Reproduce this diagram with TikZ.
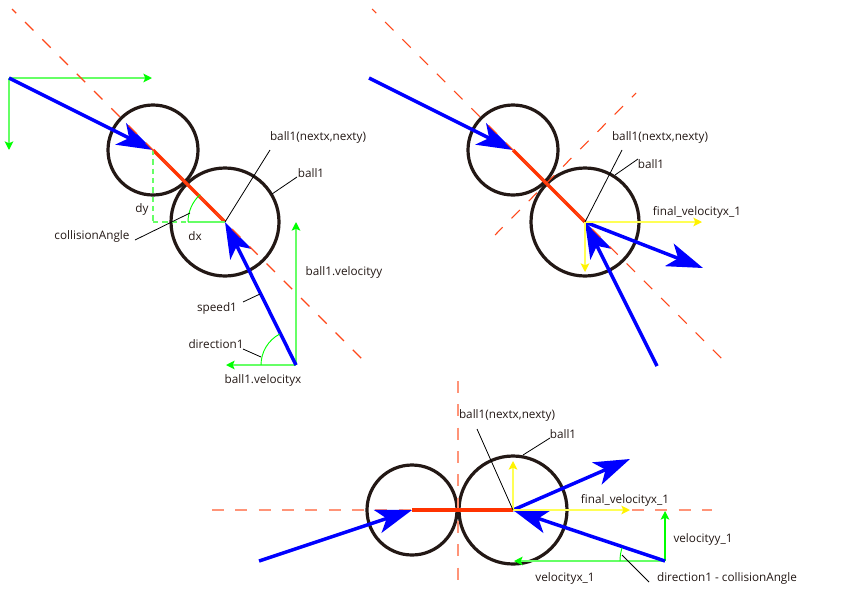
\documentclass[tikz,border=0pt]{standalone}
\usepackage{fontspec}
\setmainfont{Open Sans}
\usetikzlibrary{arrows.meta}
\usetikzlibrary{positioning}
\definecolor{ballrim}{HTML}{231815}
\definecolor{lineorange}{HTML}{FF3300}
\definecolor{dashsalmon}{HTML}{FF9478}
\definecolor{axisgreen}{HTML}{66FF66}
\definecolor{axisyellow}{HTML}{FFFF55}
\tikzset{
        ball/.style={draw=ballrim,circle,line width=2.4pt,inner sep=0pt,fill=none},
        pt/.style={inner sep=0pt,outer sep=0pt,minimum size=0pt},
        lab/.style={inner sep=0pt,font=\fontsize{8.8}{10}\selectfont,text=ballrim},
        speedline/.style={draw=blue,line width=2.6pt,-{Stealth[length=27pt,width=18pt,inset=7pt]}},
        linkline/.style={draw=lineorange,line width=2.4pt},
        centerline/.style={draw=lineorange!90,line width=0.8pt,dash pattern=on 8.9pt off 9.4pt,dash phase=4.5pt},
        salmonline/.style={draw=dashsalmon,line width=1.4pt,dash pattern=on 9pt off 8.5pt},
        axis/.style={draw=axisgreen,line width=1.2pt,-{Stealth[length=6.5pt,width=6.5pt,inset=1.5pt,color=green]}},
        yaxis/.style={draw=axisyellow,line width=1.2pt,-{Stealth[length=6.5pt,width=6.5pt,inset=1.5pt,color=yellow]}},
        dashaxis/.style={draw=axisgreen,line width=1.2pt,dash pattern=on 4pt off 3pt},
        leader/.style={draw=black,line width=0.6pt},
        anglearc/.style={draw=green,line width=0.7pt}
}
\begin{document}
\begin{tikzpicture}[x=0.75pt,y=-0.75pt]
\useasboundingbox (0,0) rectangle (859,607);
% first picture
\node[pt] (orig) at (9,78) {};
\node[pt] (xend) at (152,78) {};
\node[pt] (yend) at (9,150) {};
\node[pt] (c1) at (153,150) {};
\node[pt] (c2) at (225,222) {};
\node[pt] (start) at (296,365) {};
\node[pt] (dashA) at (12,9) {};
\node[pt] (dashB) at (365,362) {};
\node[pt] (vyend) at (296,222) {};
\node[pt] (vxend) at (226,365) {};
\node[pt] (corner) at (153,222) {};
\node[ball,minimum size=67.5pt] (small) at (c1) {};
\node[ball,minimum size=81pt] (big) at (c2) {};
\draw[linkline] (c1) -- (c2);
\draw[dashaxis] (c1) -- (corner) -- (c2);
\draw[draw=axisgreen,line width=1.2pt] (188,222) -- (c2);
\draw[axis] (orig) -- (xend);
\draw[axis] (orig) -- (yend);
\draw[axis] (start) -- (vyend);
\draw[axis] (start) -- (vxend);
\draw[speedline] (orig) -- (c1);
\draw[speedline] (start) -- (c2);
\draw[centerline] (dashA) -- (dashB);
\draw[anglearc] (188,222) arc[start angle=180,end angle=228,radius=37];
\draw[anglearc] (261,365) arc[start angle=180,end angle=242,radius=35];
\node[lab] (nextA) at (318,137) {ball1(nextx,nexty)};
\node[lab] (ballA) at (311,173) {ball1};
\node[lab] (dy) at (142,209) {dy};
\node[lab] (dx) at (195,236) {dx};
\node[lab] (angleA) at (92,236) {collisionAngle};
\node[lab] (velyA) at (344,272) {ball1.velocityy};
\node[lab] (speedA) at (217,308) {speed1};
\node[lab] (dirA) at (216,344) {direction1};
\node[lab] (velxA) at (263,380) {ball1.velocityx};
\draw[leader] (c2) -- (270,150);
\draw[leader] (272,194) -- (297,177);
\draw[leader] (135,240) -- (190,213);
\draw[leader] (243,302) -- (260,294);
\draw[leader] (243,349) -- (261,357);
% second picture
\node[pt] (startB) at (369,78) {};
\node[pt] (c3) at (513,150) {};
\node[pt] (c4) at (585,222) {};
\node[pt] (startC) at (657,366) {};
\node[pt] (outB) at (703,268) {};
\node[pt] (fxB) at (702,222) {};
\node[pt] (fyB) at (585,272) {};
\node[pt] (dashC) at (372,9) {};
\node[pt] (dashD) at (725,362) {};
\node[pt] (dashE) at (636,93) {};
\node[pt] (dashF) at (495,235) {};
\node[ball,minimum size=67.5pt] (smallB) at (c3) {};
\node[ball,minimum size=81pt] (bigB) at (c4) {};
\draw[linkline] (c3) -- (c4);
\draw[speedline] (startB) -- (c3);
\draw[speedline] (startC) -- (c4);
\draw[speedline] (c4) -- (outB);
\draw[yaxis] (c4) -- (fxB);
\draw[yaxis] (c4) -- (fyB);
\draw[centerline] (dashC) -- (dashD);
\draw[centerline] (dashE) -- (dashF);
\node[lab] (nextB) at (660,137) {ball1(nextx,nexty)};
\node[lab] (ballB) at (651,164) {ball1};
\node[lab] (finalB) at (697,212) {final\_velocityx\_1};
\draw[leader] (c4) -- (622,150);
\draw[leader] (615,175) -- (638,159);
% third picture
\node[pt] (startD) at (259,561) {};
\node[pt] (c5) at (412,510) {};
\node[pt] (c6) at (513,510) {};
\node[pt] (startE) at (665,561) {};
\node[pt] (outD) at (630,459) {};
\node[pt] (fxD) at (630,510) {};
\node[pt] (fyD) at (513,461) {};
\node[pt] (vxD) at (514,561) {};
\node[pt] (vyD) at (665,511) {};
\node[pt] (dashG) at (212,510) {};
\node[pt] (dashH) at (712,510) {};
\node[pt] (dashI) at (458,381) {};
\node[pt] (dashJ) at (458,585) {};
\node[ball,minimum size=67.5pt] (smallD) at (c5) {};
\node[ball,minimum size=81pt] (bigD) at (c6) {};
\draw[salmonline] (dashG) -- (dashH);
\draw[salmonline] (dashI) -- (dashJ);
\draw[linkline] (c5) -- (c6);
\draw[axis] (startE) -- (vxD);
\draw[axis,draw=green,line width=0.8pt] (startE) -- (vyD);
\draw[speedline] (startD) -- (c5);
\draw[speedline] (startE) -- (c6);
\draw[speedline] (c6) -- (outD);
\draw[yaxis] (c6) -- (fxD);
\draw[yaxis] (c6) -- (fyD);
\draw[anglearc] (620,561) arc[start angle=180,end angle=197,radius=45];
\node[lab] (nextD) at (507,415) {ball1(nextx,nexty)};
\node[lab] (ballD) at (563,434) {ball1};
\node[lab] (finalD) at (625,500) {final\_velocityx\_1};
\node[lab] (velyD) at (703,539) {velocityy\_1};
\node[lab] (velxD) at (565,578) {velocityx\_1};
\node[lab] (dirD) at (727,578) {direction1 - collisionAngle};
\draw[leader] (c6) -- (477,429);
\draw[leader] (523,455) -- (550,438);
\draw[leader] (622,555) -- (649,582);
\end{tikzpicture}
\end{document}
